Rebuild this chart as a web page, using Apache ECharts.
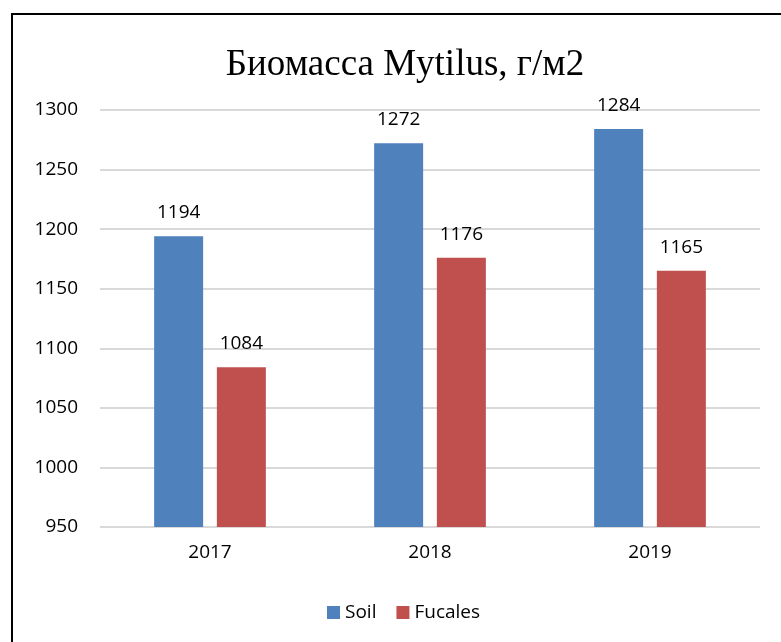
<!DOCTYPE html>
<html>
<head>
<meta charset="utf-8">
<script src="https://cdn.jsdelivr.net/npm/echarts@6/dist/echarts.min.js"></script>
<style>
  html, body { margin: 0; padding: 0; background: #fff; }
  #chart { width: 781px; height: 642px; }
</style>
</head>
<body>
<div id="chart"></div>
<script>
// данные графика
let years = ['2017', '2018', '2019'];
let soil = [1194, 1272, 1284];
let fucales = [1084, 1176, 1165];
let yMin = 950, yMax = 1300, yStep = 50;

let chart = echarts.init(document.getElementById('chart'));
let labelFont = {
    show: true,
    position: 'top',
    distance: 14,
    color: '#000',
    fontFamily: 'Open Sans',
    fontSize: 19
};
let option = {
    animation: false,
    color: ['#4F81BD', '#C0504D'],
    title: {
        text: 'Биомасса Mytilus, г/м2',
        left: 400,
        textAlign: 'center',
        top: 42,
        textStyle: {
            fontFamily: 'Liberation Serif',
            fontWeight: 'normal',
            fontSize: 37,
            color: '#000'
        }
    },
    legend: {
        data: ['Soil', 'Fucales'],
        bottom: 15,
        left: 322,
        itemWidth: 13,
        itemHeight: 13,
        itemGap: 20,
        icon: 'rect',
        textStyle: { fontFamily: 'Open Sans', fontSize: 19, color: '#000' }
    },
    grid: { left: 100, right: 21, top: 110, bottom: 115 },
    xAxis: {
        type: 'category',
        data: years,
        axisLine: { show: false },
        axisTick: { show: false },
        axisLabel: { color: '#000', fontFamily: 'Open Sans', fontSize: 19, margin: 16 }
    },
    yAxis: {
        type: 'value',
        min: yMin,
        max: yMax,
        interval: yStep,
        axisLine: { show: false },
        axisTick: { show: false },
        axisLabel: { color: '#000', fontFamily: 'Open Sans', fontSize: 19, margin: 22, formatter: function (v) { return String(v); } },
        splitLine: { lineStyle: { color: '#D9D9D9', width: 2 } }
    },
    series: [
        { name: 'Soil', type: 'bar', data: soil, barWidth: 49, barGap: '28%', label: labelFont },
        { name: 'Fucales', type: 'bar', data: fucales, barWidth: 49, barGap: '28%', label: labelFont }
    ],
    graphic: [{
        type: 'rect',
        shape: { x: 12, y: 14, width: 820, height: 700 },
        style: { fill: 'none', stroke: '#000', lineWidth: 2 },
        silent: true
    }]
};
chart.setOption(option);
</script>
</body>
</html>
